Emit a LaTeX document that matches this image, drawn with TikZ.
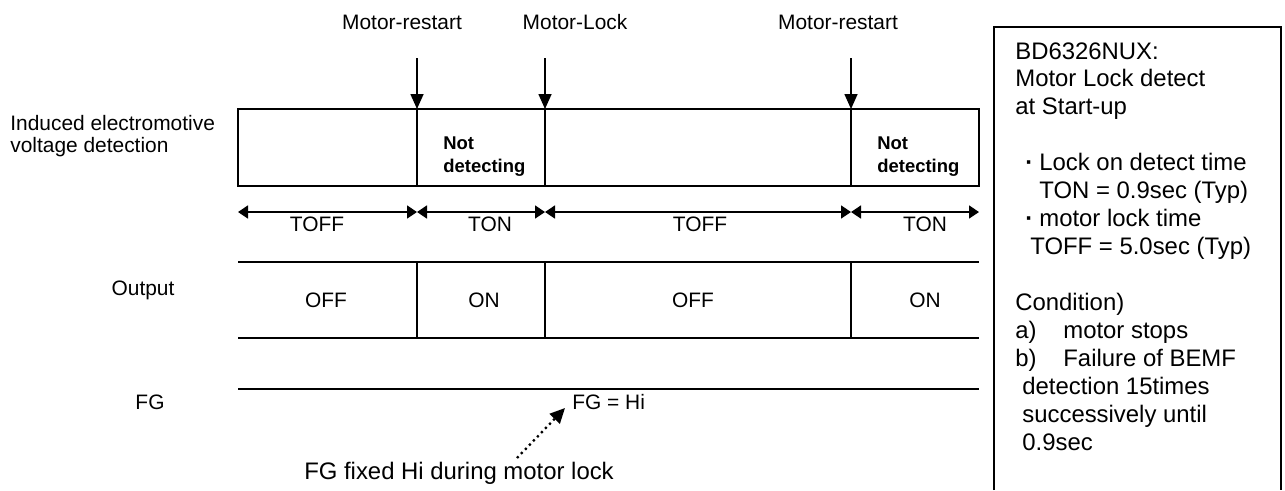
\documentclass[tikz,border=0pt]{standalone}
\usepackage{fontspec}
\setmainfont{Liberation Sans}
\usepackage{tikz}
\usetikzlibrary{arrows.meta}

\begin{document}
\begin{tikzpicture}[
    lbl/.style={inner sep=0pt, font=\fontsize{11.9}{12.5}\selectfont},
    note/.style={inner sep=0pt, font=\fontsize{13.6}{15.9}\selectfont, align=left},
    nodet/.style={inner sep=0pt, font=\bfseries\fontsize{10.5}{13}\selectfont, align=left},
    sigline/.style={line width=0.9pt},
    event/.style={-{Triangle[length=0.3cm, width=0.26cm]}, line width=0.9pt},
    spanarrow/.style={{Triangle[length=0.2cm, width=0.26cm]}-{Triangle[length=0.2cm, width=0.26cm]}, line width=0.9pt},
    hint/.style={-{Triangle[length=0.3cm, width=0.28cm]}, dotted, line width=1.3pt}
]
    \useasboundingbox (0,0) rectangle (25.7,-9.8);

    % signal names
    \node[lbl, align=left, anchor=west] (emf) at (0.2,-2.72) {Induced electromotive\\voltage detection};
    \node[lbl] (outname) at (2.86,-5.8) {Output};
    \node[lbl] (fgname) at (3.0,-8.04) {FG};

    % events
    \node[lbl] (restartA) at (8.04,-0.44) {Motor-restart};
    \node[lbl] (lock) at (11.5,-0.44) {Motor-Lock};
    \node[lbl] (restartB) at (16.76,-0.44) {Motor-restart};
    \foreach \x/\n in {8.34/1, 10.90/2, 17.02/3} {
        \coordinate (evtop\n) at (\x,-1.16);
        \coordinate (evhit\n) at (\x,-2.18);
        \draw[event] (evtop\n) -- (evhit\n);
    }

    % detection window
    \draw[sigline] (4.76,-2.18) rectangle (19.58,-3.72);
    \foreach \x in {8.34, 10.90, 17.02}
        \draw[sigline] (\x,-2.18) -- (\x,-3.72);
    \node[nodet, anchor=west] (ndA) at (8.86,-3.13) {Not\\detecting};
    \node[nodet, anchor=west] (ndB) at (17.54,-3.13) {Not\\detecting};

    % timing
    \foreach \x [count=\i from 0] in {4.76, 8.34, 10.90, 17.02, 19.58}
        \coordinate (t\i) at (\x,-4.24);
    \foreach \i/\j in {0/1, 1/2, 2/3, 3/4}
        \draw[spanarrow] (t\i) -- (t\j);
    \node[lbl] (toffA) at (6.34,-4.48) {TOFF};
    \node[lbl] (tonA) at (9.8,-4.48) {TON};
    \node[lbl] (toffB) at (14.0,-4.48) {TOFF};
    \node[lbl] (tonB) at (18.5,-4.48) {TON};

    % output
    \draw[sigline] (4.76,-5.24) -- (19.58,-5.24);
    \draw[sigline] (4.76,-6.76) -- (19.58,-6.76);
    \foreach \x in {8.34, 10.90, 17.02}
        \draw[sigline] (\x,-5.24) -- (\x,-6.76);
    \node[lbl] (offA) at (6.52,-6.0) {OFF};
    \node[lbl] (onA) at (9.68,-6.0) {ON};
    \node[lbl] (offB) at (13.86,-6.0) {OFF};
    \node[lbl] (onB) at (18.5,-6.0) {ON};

    % FG
    \draw[sigline] (4.76,-7.78) -- (19.58,-7.78);
    \node[lbl, anchor=west] (fghi) at (11.44,-8.04) {FG = Hi};
    \node[note] (fixnote) at (9.18,-9.46) {FG fixed Hi during motor lock};
    \coordinate (hintA) at (10.34,-9.16);
    \coordinate (hintB) at (11.3,-8.16);
    \draw[hint] (hintA) -- (hintB);

    % side note
    \draw[sigline] (19.88,-9.8) -- (19.88,-0.54) -- (25.62,-0.54) -- (25.62,-9.8);
    \node[note, anchor=north west] (spec) at (20.3,-0.84) {BD6326NUX:\\
        Motor Lock detect\\
        at Start-up\\[15.9pt]
        \hspace*{0.2cm}\makebox[0.28cm][l]{\bfseries·}Lock on detect time\\
        \hspace*{0.48cm}TON = 0.9sec (Typ)\\
        \hspace*{0.2cm}\makebox[0.28cm][l]{\bfseries·}motor lock time\\
        \hspace*{0.3cm}TOFF = 5.0sec (Typ)\\[15.9pt]
        Condition)\\
        \makebox[0.96cm][l]{a)}motor stops\\
        \makebox[0.96cm][l]{b)}Failure of BEMF\\
        \hspace*{0.14cm}detection 15times\\
        \hspace*{0.14cm}successively until\\
        \hspace*{0.14cm}0.9sec};
\end{tikzpicture}
\end{document}
